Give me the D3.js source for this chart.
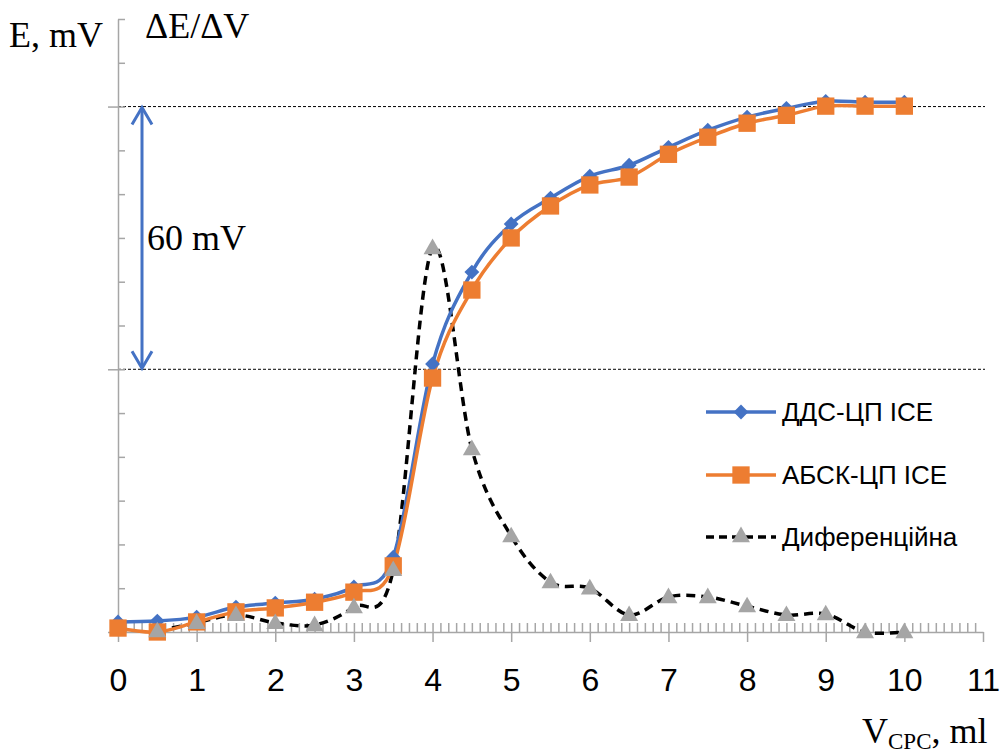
<!DOCTYPE html>
<html>
<head>
<meta charset="utf-8">
<script src="https://cdn.jsdelivr.net/npm/d3@7"></script>
<style>
  body { margin: 0; background: #fff; }
  svg { display: block; }
</style>
</head>
<body>
<div id="chart"></div>
<script>
(function(){

//titration volumes, ml
var volumes = [0, 0.5, 1, 1.5, 2, 2.5, 3, 3.5, 4, 4.5, 5, 5.5, 6, 6.5, 7, 7.5, 8, 8.5, 9, 9.5, 10];

//E, mV (relative) for the two electrodes
var eDDS  = [2.3, 2.5, 3.4, 5.7, 6.6, 7.5, 10.3, 17.1, 61.2, 82.2, 93.2, 99.1, 104.1, 106.6, 110.7, 114.6, 117.6, 119.6, 121.2, 121.0, 121.0];
var eABSK = [0.9, 0.0, 2.3, 4.6, 5.5, 6.8, 9.1, 15.1, 58.0, 78.1, 90.0, 97.3, 102.1, 103.9, 109.1, 113.0, 116.2, 118.0, 120.1, 120.1, 120.1];

//differential curve dE/dV
var diffVolumes = [0.5, 1, 1.5, 2, 2.5, 3, 3.5, 4, 4.5, 5, 5.5, 6, 6.5, 7, 7.5, 8, 8.5, 9, 9.5, 10];
var diffValues  = [0.2, 2.1, 3.9, 2.1, 1.6, 5.7, 14.2, 87.7, 41.8, 21.9, 11.4, 10.0, 3.9, 8.0, 8.0, 5.9, 3.9, 4.1, 0.0, 0.0];

//axis ticks
var xMajorTicks = [0, 1, 2, 3, 4, 5, 6, 7, 8, 9, 10, 11];
var yMajorTicks = [0, 60, 120];
var guideLevels = [60, 120];

var seriesNames = ["ДДС-ЦП ICE", "АБСК-ЦП ICE", "Диференційна"];

window.onload = drawChart;

function drawChart(){

    var width = 1003, height = 755;
    var blue = "#4472C4", orange = "#ED7D31", grey = "#A5A5A5", axisGrey = "#A6A6A6";

    var svg = d3.select("#chart")
        .append("svg")
        .attr("width", width)
        .attr("height", height);

    var x = d3.scaleLinear().domain([0, 11]).range([118, 983]);
    var y = d3.scaleLinear().domain([0, 140]).range([632, 19]);
    var yDiff = d3.scaleLinear().domain([0, 140]).range([632, 19]);

    //dashed guide lines
    svg.selectAll(".guide")
        .data(guideLevels)
        .enter()
        .append("line")
        .attr("class", "guide")
        .attr("x1", x(0)).attr("x2", 985)
        .attr("y1", function(d){ return y(d); })
        .attr("y2", function(d){ return y(d); })
        .attr("stroke", "#000")
        .attr("stroke-width", 1)
        .attr("stroke-dasharray", "3,2");

    //y axis: minor ticks inside, major ticks outside
    var yMinor = d3.axisRight(y).tickValues(d3.range(0, 141, 10)).tickSize(7).tickFormat("");
    var gyMinor = svg.append("g").attr("transform", "translate(" + x(0) + ",0)").call(yMinor);
    gyMinor.select(".domain").remove();

    var yMajor = d3.axisLeft(y).tickValues(yMajorTicks).tickSize(10).tickSizeOuter(0).tickFormat("");
    svg.append("g").attr("transform", "translate(" + x(0) + ",0)").call(yMajor);

    //x axis: minor ticks inside, major ticks outside with labels
    var xMinor = d3.axisTop(x).tickValues(d3.range(0, 110).map(function(i){ return i / 10; })).tickSize(9).tickFormat("");
    var gxMinor = svg.append("g").attr("transform", "translate(0," + y(0) + ")").call(xMinor);
    gxMinor.select(".domain").remove();

    var xMajor = d3.axisBottom(x).tickValues(xMajorTicks).tickSize(10).tickSizeOuter(0).tickPadding(26).tickFormat(d3.format("d"));
    svg.append("g").attr("class", "xaxis").attr("transform", "translate(0," + y(0) + ")").call(xMajor);

    svg.selectAll(".domain, .tick line")
        .attr("stroke", axisGrey)
        .attr("stroke-width", 1.5);
    svg.selectAll(".xaxis text")
        .attr("font-family", "Liberation Sans, Arial, sans-serif")
        .attr("font-size", 32)
        .attr("fill", "#000");

    //60 mV arrow
    var ax = 142;
    svg.append("line")
        .attr("x1", ax).attr("x2", ax)
        .attr("y1", y(120) + 2).attr("y2", y(60) - 2)
        .attr("stroke", blue).attr("stroke-width", 3);
    svg.append("path")
        .attr("d", "M" + (ax - 10) + "," + (y(120) + 18) + "L" + ax + "," + (y(120) + 1) + "L" + (ax + 10) + "," + (y(120) + 18))
        .attr("fill", "none").attr("stroke", blue).attr("stroke-width", 3);
    svg.append("path")
        .attr("d", "M" + (ax - 10) + "," + (y(60) - 18) + "L" + ax + "," + (y(60) - 1) + "L" + (ax + 10) + "," + (y(60) - 18))
        .attr("fill", "none").attr("stroke", blue).attr("stroke-width", 3);
    svg.append("text")
        .attr("x", 147).attr("y", 250)
        .attr("font-family", "Liberation Serif, Times New Roman, serif")
        .attr("font-size", 36)
        .text("60 mV");

    var smooth = d3.curveCardinal.tension(0);

    //differential curve
    var diffLine = d3.line()
        .x(function(d, i){ return x(diffVolumes[i]); })
        .y(function(d){ return yDiff(d); })
        .curve(smooth);
    svg.append("path")
        .datum(diffValues)
        .attr("d", diffLine)
        .attr("fill", "none")
        .attr("stroke", "#000")
        .attr("stroke-width", 3.5)
        .attr("stroke-dasharray", "9,6");

    //potential curves
    var eLine = d3.line()
        .x(function(d, i){ return x(volumes[i]); })
        .y(function(d){ return y(d); })
        .curve(smooth);

    svg.append("path").datum(eDDS).attr("d", eLine)
        .attr("fill", "none").attr("stroke", blue).attr("stroke-width", 3.5);
    svg.append("path").datum(eABSK).attr("d", eLine)
        .attr("fill", "none").attr("stroke", orange).attr("stroke-width", 3.5);

    var diamond = d3.symbol().type(d3.symbolDiamond2).size(140);
    var square = d3.symbol().type(d3.symbolSquare).size(300);
    var triangle = d3.symbol().type(d3.symbolTriangle).size(140);

    svg.selectAll(".mDDS")
        .data(eDDS).enter().append("path")
        .attr("class", "mDDS")
        .attr("d", diamond)
        .attr("transform", function(d, i){ return "translate(" + x(volumes[i]) + "," + y(d) + ")"; })
        .attr("fill", blue);

    svg.selectAll(".mABSK")
        .data(eABSK).enter().append("path")
        .attr("class", "mABSK")
        .attr("d", square)
        .attr("transform", function(d, i){ return "translate(" + x(volumes[i]) + "," + y(d) + ")"; })
        .attr("fill", orange);

    svg.selectAll(".mDiff")
        .data(diffValues).enter().append("path")
        .attr("class", "mDiff")
        .attr("d", triangle)
        .attr("transform", function(d, i){ return "translate(" + x(diffVolumes[i]) + "," + (yDiff(d) + 1) + ")"; })
        .attr("fill", grey);

    //legend
    var legendY = [412, 475, 537];
    var legend = svg.selectAll(".legend")
        .data(seriesNames).enter().append("g")
        .attr("class", "legend")
        .attr("transform", function(d, i){ return "translate(706," + legendY[i] + ")"; });

    legend.append("line")
        .attr("x1", 0).attr("x2", 70).attr("y1", 0).attr("y2", 0)
        .attr("stroke", function(d, i){ return [blue, orange, "#000"][i]; })
        .attr("stroke-width", 3.5)
        .attr("stroke-dasharray", function(d, i){ return i === 2 ? "8,5" : null; });

    legend.append("path")
        .attr("d", function(d, i){ return [diamond, square, triangle][i](); })
        .attr("transform", "translate(35,0)")
        .attr("fill", function(d, i){ return [blue, orange, grey][i]; });

    legend.append("text")
        .attr("x", 76).attr("y", 9)
        .attr("font-family", "Liberation Sans, Arial, sans-serif")
        .attr("font-size", 26)
        .text(function(d){ return d; });

    //axis titles
    var serif = "Liberation Serif, Times New Roman, serif";
    svg.append("text")
        .attr("x", 9).attr("y", 47)
        .attr("font-family", serif).attr("font-size", 36)
        .text("E, mV");
    svg.append("text")
        .attr("x", 145).attr("y", 38)
        .attr("font-family", serif).attr("font-size", 36)
        .text("ΔE/ΔV");

    var xTitle = svg.append("text")
        .attr("x", 862).attr("y", 743)
        .attr("font-family", serif).attr("font-size", 36);
    xTitle.append("tspan").text("V");
    xTitle.append("tspan").attr("font-size", 23).attr("dy", 6).text("CPC");
    xTitle.append("tspan").attr("dy", -6).text(", ml");
};

})();
</script>
</body>
</html>
